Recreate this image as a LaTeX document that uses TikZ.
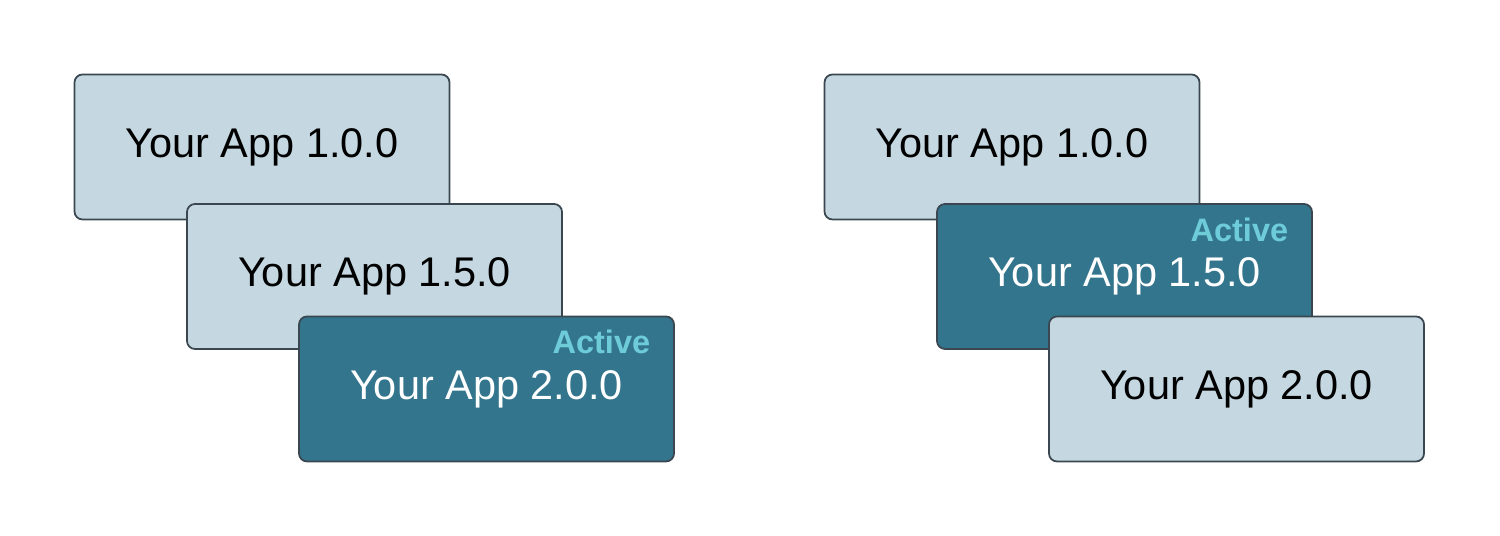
\documentclass[tikz,border=0pt]{standalone}
\usepackage{fontspec}
\setmainfont{Liberation Sans}

\definecolor{oldfill}{HTML}{C5D8E1}
\definecolor{activefill}{HTML}{33758C}
\definecolor{boxline}{HTML}{3A4750}
\definecolor{activetext}{HTML}{6ECCD9}

\begin{document}
\begin{tikzpicture}[
    version/.style={draw=boxline, line width=1pt, rounded corners=0.16cm,
        minimum width=7.5cm, minimum height=2.9cm, inner sep=0pt,
        font=\fontsize{23.6}{28}\selectfont},
    oldversion/.style={version, fill=oldfill, text=black},
    activeversion/.style={version, fill=activefill, text=white},
    activetag/.style={anchor=base east, text=activetext,
        font=\fontsize{18.5}{22}\selectfont\bfseries}
]

\useasboundingbox (0,0) rectangle (30,10.72);

% Left: 2.0.0 is active
\node[oldversion] (l1) at (5.24,7.78) {Your App 1.0.0};
\node[oldversion] (l2) at (7.49,5.19) {Your App 1.5.0};
\node[activeversion] (l3) at (9.73,2.94) {Your App 2.0.0};
\node[activetag, xshift=-0.37cm, yshift=-0.76cm] (l3tag) at (l3.north east) {Active};

% Right: rolled back, 1.5.0 is active
\node[oldversion] (r1) at (20.24,7.78) {Your App 1.0.0};
\node[activeversion] (r2) at (22.49,5.19) {Your App 1.5.0};
\node[activetag, xshift=-0.37cm, yshift=-0.76cm] (r2tag) at (r2.north east) {Active};
\node[oldversion] (r3) at (24.73,2.94) {Your App 2.0.0};

\end{tikzpicture}
\end{document}
